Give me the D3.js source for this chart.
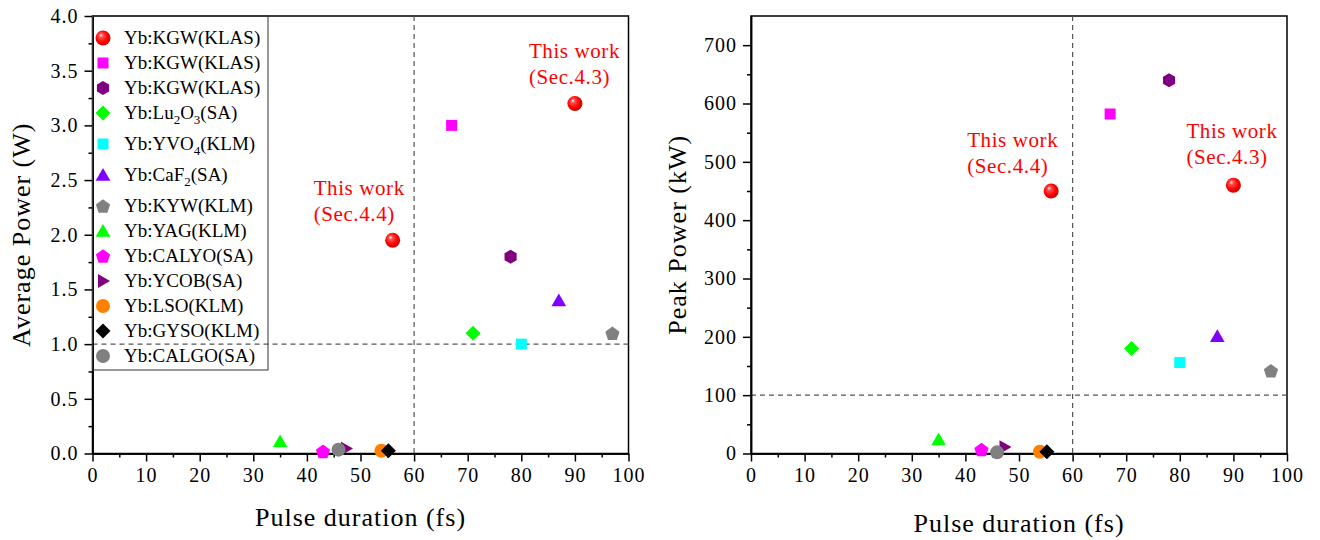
<!DOCTYPE html>
<html lang="en">
<head>
   <meta charset="UTF-8">
   <title>Pulse duration vs power</title>
   <script src="https://cdn.jsdelivr.net/npm/d3@7"></script>
   <style>
      body { margin: 0; background: #fff; }
      .domain { stroke: #000; stroke-width: 1.5px; }
      .tick line { stroke: #000; stroke-width: 1.5px; }
   </style>
</head>
<body>
   <svg width="1320" height="540"></svg>

   <script>
       const SERIF = '"Liberation Serif", "Times New Roman", serif';

       // ---- data ----
       // "_" marks the next character as a subscript
       const seriesNames = ["Yb:KGW(KLAS)", "Yb:KGW(KLAS)", "Yb:KGW(KLAS)", "Yb:Lu_2O_3(SA)", "Yb:YVO_4(KLM)",
           "Yb:CaF_2(SA)", "Yb:KYW(KLM)", "Yb:YAG(KLM)", "Yb:CALYO(SA)", "Yb:YCOB(SA)", "Yb:LSO(KLM)",
           "Yb:GYSO(KLM)", "Yb:CALGO(SA)"];
       const seriesShapes = ["sphere", "square", "hexagon", "diamond", "square", "triangle", "pentagon",
           "triangle", "pentagon", "rtriangle", "circle", "diamond", "circle"];
       const seriesColors = ["#ff0000", "#ff00ff", "#800080", "#00ff00", "#00ffff", "#8000ff", "#808080",
           "#00ff00", "#ff00ff", "#800080", "#ff8000", "#000000", "#808080"];

       const pulseFs = [[90, 56], [67], [78], [71], [80], [87], [97], [35], [43], [47.3], [53.9], [55.2], [45.9]];
       const avgPowerW = [[3.2, 1.95], [3.0], [1.8], [1.1], [1.0], [1.4], [1.1], [0.11], [0.02], [0.045], [0.025], [0.025], [0.035]];
       const peakPowerKW = [[460, 450], [582], [640], [180], [156], [201], [142], [24], [7], [11], [3], [3], [2]];

       const xTicks = d3.range(0, 101, 10);
       const avgTicks = d3.range(0, 4.01, 0.5);
       const peakTicks = d3.range(0, 701, 100);

       const svg = d3.select('svg');

       // shiny red ball
       const grad = svg.append('defs').append('radialGradient')
           .attr('id', 'ball').attr('cx', '45%').attr('cy', '45%').attr('r', '60%')
           .attr('fx', '35%').attr('fy', '30%');
       grad.append('stop').attr('offset', '0%').attr('stop-color', '#ffffff');
       grad.append('stop').attr('offset', '22%').attr('stop-color', '#ff5050');
       grad.append('stop').attr('offset', '65%').attr('stop-color', '#ff0000');
       grad.append('stop').attr('offset', '100%').attr('stop-color', '#c00000');

       function polygon(n, r, rot) {
           const pts = d3.range(n).map(i => {
               const a = rot + i * 2 * Math.PI / n;
               return [r * Math.cos(a), r * Math.sin(a)];
           });
           return 'M' + pts.map(p => p.join(',')).join('L') + 'Z';
       }

       function drawMarker(g, shape, color, cx, cy) {
           const m = g.append('g').attr('transform', `translate(${cx},${cy})`);
           const up = -Math.PI / 2;
           if (shape === 'sphere') m.append('circle').attr('r', 7.5).attr('fill', 'url(#ball)');
           else if (shape === 'circle') m.append('circle').attr('r', 7).attr('fill', color);
           else if (shape === 'square') m.append('rect').attr('x', -5.5).attr('y', -5.5).attr('width', 11).attr('height', 11).attr('fill', color);
           else if (shape === 'hexagon') m.append('path').attr('d', polygon(6, 7, up)).attr('fill', color);
           else if (shape === 'diamond') m.append('path').attr('d', polygon(4, 7.5, up)).attr('fill', color);
           else if (shape === 'triangle') m.append('path').attr('d', polygon(3, 8.5, up)).attr('transform', 'translate(0,1.5)').attr('fill', color);
           else if (shape === 'rtriangle') m.append('path').attr('d', polygon(3, 8, 0)).attr('transform', 'translate(-1,0)').attr('fill', color);
           else if (shape === 'pentagon') m.append('path').attr('d', polygon(5, 7.5, up)).attr('transform', 'translate(0,0.8)').attr('fill', color);
       }

       function addLabel(sel, name) {
           // subscripts drop 5px, the following character comes back up
           let lift = 0;
           for (let i = 0; i < name.length; i++) {
               if (name[i] === '_') {
                   sel.append('tspan').attr('font-size', 13).attr('dy', 5).text(name[i + 1]);
                   lift = -5;
                   i++;
               } else {
                   sel.append('tspan').attr('dy', lift).text(name[i]);
                   lift = 0;
               }
           }
       }

       function panel(opts) {
           const { left, right, top, bottom, yMax, yTicks, yMinor, yFmt, yValues, yTitle, yTitleX, xTitleY, hLine, notes } = opts;
           const x = d3.scaleLinear().domain([0, 100]).range([left, right]);
           const y = d3.scaleLinear().domain([0, yMax]).range([bottom, top]);
           const g = svg.append('g');

           // frame
           g.append('rect').attr('x', left).attr('y', top).attr('width', right - left).attr('height', bottom - top)
               .attr('fill', 'none').attr('stroke', '#000').attr('stroke-width', 1.5);

           // dashed guides
           g.append('line').attr('x1', x(60)).attr('x2', x(60)).attr('y1', top).attr('y2', bottom)
               .attr('stroke', '#555').attr('stroke-width', 1.2).attr('stroke-dasharray', '5,4');
           g.append('line').attr('x1', left).attr('x2', right).attr('y1', y(hLine)).attr('y2', y(hLine))
               .attr('stroke', '#555').attr('stroke-width', 1.2).attr('stroke-dasharray', '5,4');

           // axes, major + minor ticks
           g.append('g').attr('transform', `translate(0,${bottom})`)
               .call(d3.axisBottom(x).tickValues(d3.range(5, 100, 10)).tickSize(4).tickSizeOuter(0).tickFormat(''));
           g.append('g').attr('transform', `translate(0,${bottom})`)
               .call(d3.axisBottom(x).tickValues(xTicks).tickSize(8).tickSizeOuter(0).tickPadding(6).tickFormat(d3.format('d')));
           g.append('g').attr('transform', `translate(${left},0)`)
               .call(d3.axisLeft(y).tickValues(yMinor).tickSize(4).tickSizeOuter(0).tickFormat(''));
           g.append('g').attr('transform', `translate(${left},0)`)
               .call(d3.axisLeft(y).tickValues(yTicks).tickSize(8).tickSizeOuter(0).tickPadding(6).tickFormat(yFmt));

           g.selectAll('.tick text').style('font-family', SERIF).style('font-size', '20px')
               .style('letter-spacing', '1px').attr('fill', '#000');

           // axis titles
           g.append('text').attr('x', (left + right) / 2).attr('y', xTitleY).attr('text-anchor', 'middle')
               .style('font-family', SERIF).attr('font-size', 26).attr('letter-spacing', 1).text('Pulse duration (fs)');
           g.append('text').attr('transform', `translate(${yTitleX},${(top + bottom) / 2}) rotate(-90)`)
               .style('font-family', SERIF).attr('text-anchor', 'middle').attr('font-size', 26)
               .attr('letter-spacing', 1).text(yTitle);

           // points
           seriesNames.forEach((n, i) => {
               pulseFs[i].forEach((p, j) => drawMarker(g, seriesShapes[i], seriesColors[i], x(p), y(yValues[i][j])));
           });

           // "this work" notes, placed by the red points
           notes.forEach(nt => {
               const px = x(pulseFs[0][nt.idx]), py = y(yValues[0][nt.idx]);
               const t = g.append('text').attr('fill', '#ff0000').style('font-family', SERIF)
                   .attr('font-size', 21).attr('letter-spacing', 0.6);
               t.append('tspan').attr('x', px + nt.dx).attr('y', py + nt.dy).text('This work');
               t.append('tspan').attr('x', px + nt.dx).attr('y', py + nt.dy + 26).text(nt.sec);
           });
           return { g, x, y };
       }

       const L = panel({
           left: 92.5, right: 628.5, top: 16, bottom: 453.5, yMax: 4,
           yTicks: avgTicks, yMinor: d3.range(0.25, 4, 0.5), yFmt: d3.format('.1f'),
           yValues: avgPowerW, yTitle: 'Average Power (W)', yTitleX: 30, xTitleY: 526, hLine: 1.0,
           notes: [{ idx: 0, sec: '(Sec.4.3)', dx: -46, dy: -46 }, { idx: 1, sec: '(Sec.4.4)', dx: -79, dy: -45 }]
       });

       panel({
           left: 751, right: 1287, top: 16, bottom: 453.5, yMax: 750,
           yTicks: peakTicks, yMinor: d3.range(50, 700, 100), yFmt: d3.format('d'),
           yValues: peakPowerKW, yTitle: 'Peak Power (kW)', yTitleX: 686, xTitleY: 532, hLine: 100,
           notes: [{ idx: 0, sec: '(Sec.4.3)', dx: -47, dy: -47 }, { idx: 1, sec: '(Sec.4.4)', dx: -84, dy: -44 }]
       });

       // legend in the left panel
       const leg = L.g.append('g');
       leg.append('rect').attr('x', 92.5).attr('y', 16).attr('width', 175.5).attr('height', 354)
           .attr('fill', 'none').attr('stroke', '#333').attr('stroke-width', 1);
       let rowY = 38;
       seriesNames.forEach((n, i) => {
           drawMarker(leg, seriesShapes[i], seriesColors[i], 103, rowY);
           const t = leg.append('text').attr('x', 124).attr('y', rowY + 6).attr('font-size', 19)
               .style('font-family', SERIF);
           addLabel(t, n);
           rowY += n.includes('_') ? 31 : 25;
       });
   </script>
</body>
</html>
